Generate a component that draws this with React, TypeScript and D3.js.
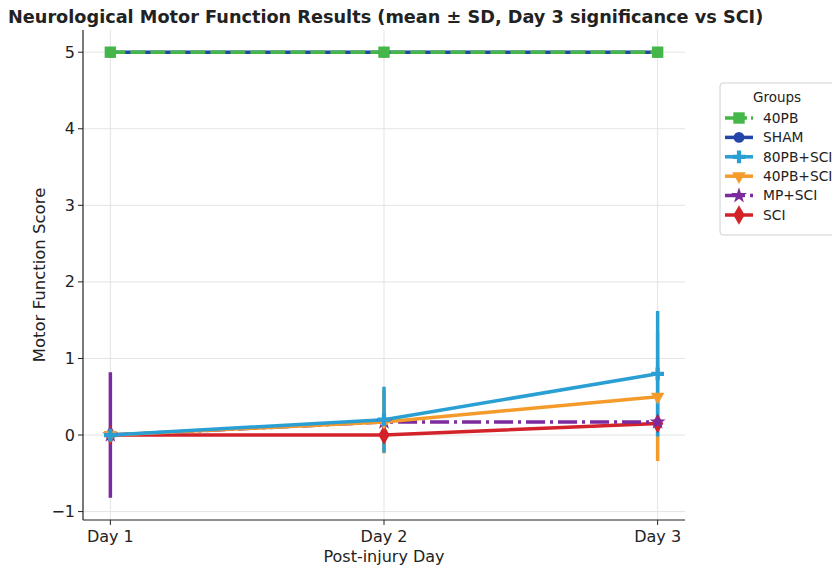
import React from 'react';
import { scaleLinear, line, symbol, symbolSquare, symbolCircle, symbolCross, symbolTriangle, symbolStar, symbolDiamond } from 'd3';

// data
const days = ['Day 1', 'Day 2', 'Day 3'];
const groups = ['40PB', 'SHAM', '80PB+SCI', '40PB+SCI', 'MP+SCI', 'SCI'];
const pb40 = [5, 5, 5];
const sham = [5, 5, 5];
const pb80sci = [0, 0.2, 0.8];
const pb40sci = [0, 0.17, 0.5];
const mpsci = [0, 0.17, 0.17];
const sci = [0, 0, 0.15];
const pb40Sd = [0, 0, 0];
const shamSd = [0, 0, 0];
const pb80sciSd = [0, 0.43, 0.82];
const pb40sciSd = [0, 0.41, 0.84];
const mpsciSd = [0.82, 0, 0];
const sciSd = [0, 0, 0];
const yTicks = [-1, 0, 1, 2, 3, 4, 5];

const W = 832, H = 567;
const margin = { left: 83, right: 147, top: 30, bottom: 47 };

const x = scaleLinear().domain([0.9, 3.1]).range([margin.left, W - margin.right]);
const y = scaleLinear().domain([-1.11, 5.29]).range([H - margin.bottom, margin.top]);

const font = 'DejaVu Sans, sans-serif';

type Series = {
  name: string; values: number[]; sd: number[]; color: string;
  dash?: string; legendDash?: string; marker: any; size: number; rot?: number;
};

const series: Series[] = [
  { name: groups[0], values: pb40, sd: pb40Sd, color: '#45b649', dash: '15,5', legendDash: '9,4', marker: symbolSquare, size: 130 },
  { name: groups[1], values: sham, sd: shamSd, color: '#2344a8', marker: symbolCircle, size: 90 },
  { name: groups[2], values: pb80sci, sd: pb80sciSd, color: '#2a9fd4', marker: symbolCross, size: 90 },
  { name: groups[3], values: pb40sci, sd: pb40sciSd, color: '#f59b2c', marker: symbolTriangle, size: 80, rot: 180 },
  { name: groups[4], values: mpsci, sd: mpsciSd, color: '#7b2b9e', dash: '19,5,3,5', legendDash: '12,5,3,5', marker: symbolStar, size: 80 },
  { name: groups[5], values: sci, sd: sciSd, color: '#d3222a', marker: symbolDiamond, size: 110 },
];
// bottom to top, as the figure stacks them
const lineOrder = [5, 4, 3, 2, 1, 0];
const markerOrder = [5, 4, 3, 2, 1, 0];

const App = () => {
  const lineGen = line<number>().x((_, i) => x(i + 1)).y(d => y(d));
  return (
    <svg width={W} height={H} style={{ position: 'absolute', left: 0, top: 0, background: '#fff' }}>
      <text x={8} y={23} fontFamily={font} fontWeight="bold" fontSize={17.7} fill="#222">
        Neurological Motor Function Results (mean ± SD, Day 3 significance vs SCI)
      </text>
      {/* grid */}
      {yTicks.map(t => (
        <line key={'gy' + t} x1={margin.left} x2={W - margin.right} y1={y(t)} y2={y(t)} stroke="#e3e3e3" strokeWidth={1} />
      ))}
      {days.map((d, i) => (
        <line key={'gx' + d} x1={x(i + 1)} x2={x(i + 1)} y1={margin.top} y2={H - margin.bottom} stroke="#e3e3e3" strokeWidth={1} />
      ))}
      {/* lines and error bars */}
      {lineOrder.map(si => {
        const s = series[si];
        return (
          <g key={s.name}>
            {s.sd.map((e, i) => e > 0 ? (
              <line key={i} x1={x(i + 1)} x2={x(i + 1)} y1={y(s.values[i] - e)} y2={y(s.values[i] + e)} stroke={s.color} strokeWidth={3.5} />
            ) : null)}
            <path d={lineGen(s.values) || ''} fill="none" stroke={s.color} strokeWidth={3.5} strokeDasharray={s.dash} />
          </g>
        );
      })}
      {/* markers */}
      {markerOrder.map(si => {
        const s = series[si];
        return (
          <g key={'m' + s.name}>
            {s.values.map((v, i) => (
              <path key={i} transform={`translate(${x(i + 1)},${y(v)}) rotate(${s.rot || 0})`}
                d={symbol(s.marker, s.size)() || ''} fill={s.color} />
            ))}
          </g>
        );
      })}
      {/* axes */}
      <line x1={margin.left} x2={margin.left} y1={margin.top} y2={H - margin.bottom} stroke="#222" strokeWidth={1.2} />
      <line x1={margin.left} x2={W - margin.right} y1={H - margin.bottom} y2={H - margin.bottom} stroke="#222" strokeWidth={1.2} />
      {yTicks.map(t => (
        <g key={'ty' + t}>
          <line x1={margin.left - 5} x2={margin.left} y1={y(t)} y2={y(t)} stroke="#222" />
          <text x={margin.left - 8} y={y(t)} dy="0.35em" textAnchor="end" fontFamily={font} fontSize={16} fill="#222">
            {t < 0 ? '\u2212' + Math.abs(t) : t}
          </text>
        </g>
      ))}
      {days.map((d, i) => (
        <g key={'tx' + d}>
          <line x1={x(i + 1)} x2={x(i + 1)} y1={H - margin.bottom} y2={H - margin.bottom + 5} stroke="#222" />
          <text x={x(i + 1)} y={H - margin.bottom + 22} textAnchor="middle" fontFamily={font} fontSize={16} fill="#222">{d}</text>
        </g>
      ))}
      <text x={(margin.left + W - margin.right) / 2} y={562} textAnchor="middle" fontFamily={font} fontSize={16} fill="#222">Post-injury Day</text>
      <text transform={`translate(45,${(margin.top + H - margin.bottom) / 2}) rotate(-90)`} textAnchor="middle" fontFamily={font} fontSize={16.5} fill="#222">Motor Function Score</text>
      {/* legend */}
      <g transform="translate(720,83)">
        <rect x={0} y={0} width={125} height={152} rx={3} fill="#fff" stroke="#d0d0d0" />
        <text x={57} y={19} textAnchor="middle" fontFamily={font} fontSize={13.5} fill="#222">Groups</text>
        {series.map((s, k) => {
          const ly = 35 + k * 19.4;
          return (
            <g key={s.name}>
              <line x1={5} x2={33} y1={ly} y2={ly} stroke={s.color} strokeWidth={3.5} strokeDasharray={s.legendDash} />
              <path transform={`translate(19,${ly}) rotate(${s.rot || 0})`} d={symbol(s.marker, s.size)() || ''} fill={s.color} />
              <text x={43} y={ly} dy="0.35em" fontFamily={font} fontSize={13.8} fill="#222">{s.name}</text>
            </g>
          );
        })}
      </g>
    </svg>
  );
};

export default App;
